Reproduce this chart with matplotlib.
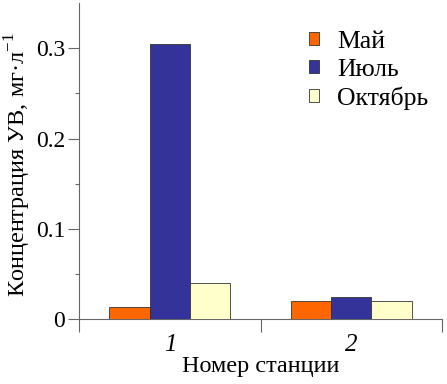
import numpy as np
import matplotlib
matplotlib.use('Agg')
import matplotlib.pyplot as plt

plt.rcParams['font.family'] = ['Liberation Serif', 'DejaVu Serif']
plt.rcParams['mathtext.fontset'] = 'custom'
plt.rcParams['mathtext.rm'] = 'Liberation Serif'

# data
stations = ['1', '2']
series = ['Май', 'Июль', 'Октябрь']
may = [0.013, 0.020]
july = [0.305, 0.025]
october = [0.040, 0.020]

colors = ['#FF6600', '#333399', '#FFFFCC']
values = [may, july, october]

fig = plt.figure(figsize=(4.47, 3.84), dpi=100)
ax = fig.add_axes([0.177, 0.169, 0.812, 0.823])

x = np.arange(len(stations))
w = 0.222
for i, (name, vals, col) in enumerate(zip(series, values, colors)):
    ax.bar(x + (i - 1) * w, vals, width=w, color=col, edgecolor='#333333',
           linewidth=0.6, label=name, zorder=3)

ax.set_xlim(-0.5, 1.5)
ax.set_ylim(0, 0.35)

# y ticks
ax.set_yticks([0, 0.1, 0.2, 0.3])
ax.set_yticklabels(['0', '0.1', '0.2', '0.3'])
ax.set_yticks([0.05, 0.15, 0.25], minor=True)
ax.tick_params(axis='y', which='major', direction='out', length=8,
               width=0.8, color='#666666', labelsize=17, pad=2)
ax.tick_params(axis='y', which='minor', direction='out', length=3,
               width=0.8, color='#666666')

# x ticks: marks at category boundaries, labels at centres
ax.set_xticks([-0.5, 0.5, 1.5])
ax.set_xticklabels(['', '', ''])
ax.tick_params(axis='x', which='major', direction='out', length=9,
               width=0.8, color='#666666')
ax.set_xticks(x, minor=True)
ax.set_xticklabels(stations, minor=True, fontstyle='italic', fontsize=18)
ax.tick_params(axis='x', which='minor', length=0, pad=11)

for side in ('top', 'right'):
    ax.spines[side].set_visible(False)
for side in ('left', 'bottom'):
    ax.spines[side].set_color('#666666')
    ax.spines[side].set_linewidth(0.8)

ax.set_ylabel('Концентрация УВ, мг·л$^{\\mathrm{-1}}$', fontsize=17.5)
ax.set_xlabel('Номер станции', fontsize=17.5, labelpad=0)
ax.yaxis.set_label_coords(-0.127, 0.49)

ax.legend(loc='upper right', bbox_to_anchor=(1.025, 0.985), frameon=False,
          fontsize=18.5, handlelength=0.38, handleheight=0.38,
          handletextpad=0.7, labelspacing=0.22)

fig.savefig('out.png', dpi=100)
